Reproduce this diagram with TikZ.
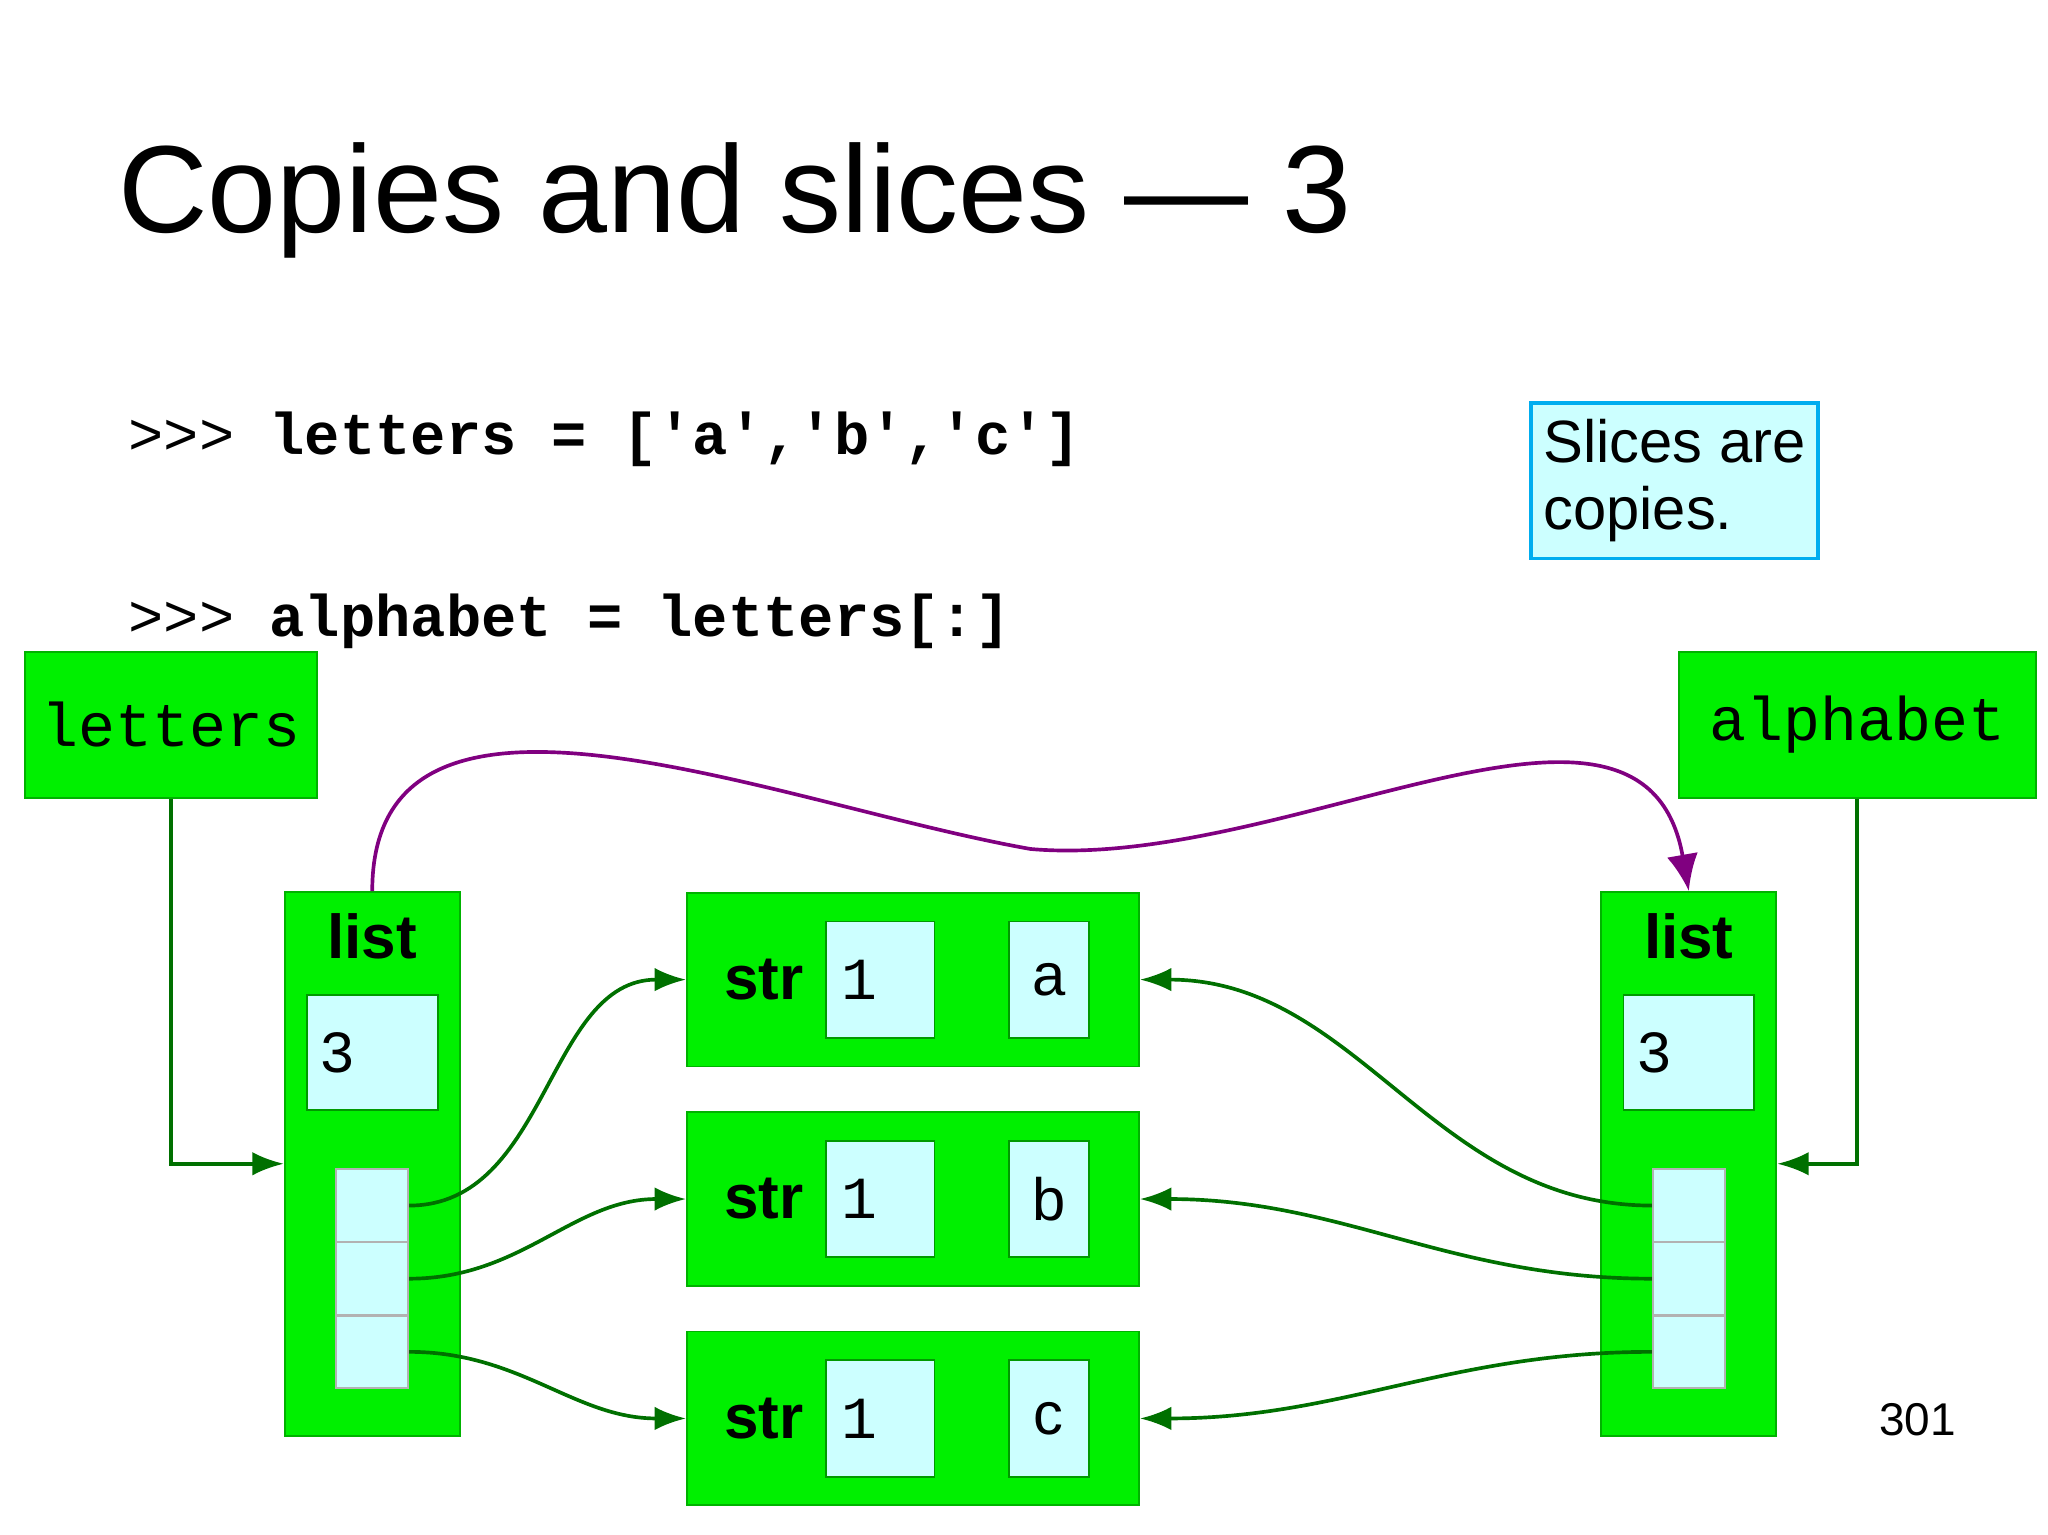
\documentclass[tikz,border=0pt]{standalone}
\usepackage{fontspec}
\setmainfont{Liberation Sans}
\setmonofont{Liberation Mono}
\usetikzlibrary{positioning, arrows.meta}
\definecolor{boxgreen}{RGB}{0,240,0}
\definecolor{paleblue}{RGB}{204,255,255}
\definecolor{linkgreen}{RGB}{0,112,0}
\definecolor{refpurple}{RGB}{128,0,128}
\begin{document}
\begin{tikzpicture}[
    x=0.01cm, y=-0.01cm,
    varbox/.style={rectangle, draw=green!70!black, fill=boxgreen, minimum height=1.12cm, font=\fontsize{13.4}{15}\selectfont\ttfamily, inner sep=0pt},
    outer/.style={rectangle, draw=green!70!black, fill=boxgreen, inner sep=0pt},
    cell/.style={rectangle, draw=green!60!black, fill=paleblue, inner sep=0pt, font=\fontsize{13}{15}\selectfont},
    slot/.style={rectangle, draw=gray!60, fill=paleblue, minimum width=0.55cm, minimum height=0.555cm, inner sep=0pt},
    typelabel/.style={font=\fontsize{13.5}{15}\selectfont\bfseries},
    link/.style={-{Latex[length=2.4mm,width=1.8mm]}, linkgreen, thick}
]
\useasboundingbox (0,0) rectangle (1568,1175);

% title and code
\node[anchor=base west, font=\fontsize{27}{30}\selectfont] (title) at (78,178) {Copies and slices — 3};
\node[anchor=base west, font=\fontsize{12.8}{15}\selectfont\ttfamily] (code1) at (86,348) {>>> \textbf{letters = ['a','b','c']}};
\node[anchor=base west, font=\fontsize{12.8}{15}\selectfont\ttfamily] (code2) at (86,487) {>>> \textbf{alphabet = letters[:]}};
\node[rectangle, draw=cyan, thick, fill=paleblue, minimum width=2.2cm, minimum height=1.19cm, align=left, inner sep=2pt, font=\fontsize{13}{14.5}\selectfont] (note) at (1282,368) {Slices are\\copies.};

% names
\node[varbox, minimum width=2.23cm] (letters) at (131,555) {letters};
\node[varbox, minimum width=2.73cm] (alphabet) at (1422,555) {alphabet};

% lists
\foreach \side/\cx in {l/285, r/1293} {
  \node[outer, minimum width=1.34cm, minimum height=4.16cm] (\side list) at (\cx,891) {};
  \node[typelabel] at (\cx,717) {list};
  \node[cell, minimum width=1cm, minimum height=0.88cm, text width=0.8cm, font=\fontsize{13}{15}\selectfont\ttfamily] (\side len) at (\cx,806) {3};
  \node[slot] (\side s1) at (\cx,923) {};
  \node[slot] (\side s2) at (\cx,979) {};
  \node[slot] (\side s3) at (\cx,1035) {};
}

% strings
\foreach \i/\cy/\ch in {1/750/a, 2/918/b, 3/1086/c} {
  \node[outer, minimum width=3.46cm, minimum height=1.33cm] (str\i) at (699,\cy) {};
  \node[typelabel] at (585,\cy) {str};
  \node[cell, minimum width=0.83cm, minimum height=0.89cm, text width=0.6cm, font=\fontsize{13}{15}\selectfont\ttfamily] at (674,\cy) {1};
  \node[cell, minimum width=0.61cm, minimum height=0.89cm] at (803,\cy) {\ch};
}

% references
\draw[link] (letters.south) |- (llist.west);
\draw[link] (alphabet.south) |- (rlist.east);
\draw[-{Latex[length=2.8mm,width=2.4mm]}, refpurple, thick] (llist.north) to[out=90, in=170] (789,650) to[out=-5, in=100] (rlist.north);
\foreach \i in {1,2,3} {
  \draw[link] (ls\i.east) to[out=0, in=180] (str\i.west);
  \draw[link] (rs\i.west) to[out=180, in=0] (str\i.east);
}

\node[font=\fontsize{10}{12}\selectfont\rmfamily] (page) at (1468,1087) {301};
\end{tikzpicture}
\end{document}
